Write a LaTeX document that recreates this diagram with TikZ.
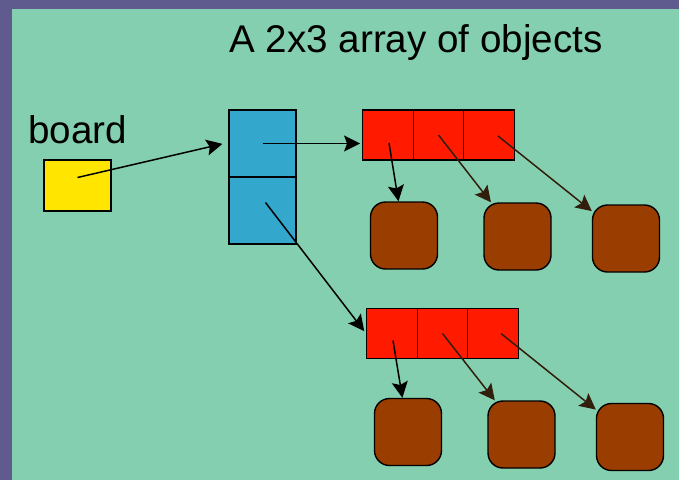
\documentclass[tikz,border=0pt]{standalone}
\usepackage{fontspec}
\setmainfont{Liberation Sans}
\usetikzlibrary{arrows.meta,calc}
\definecolor{bgpurple}{RGB}{95,91,143}
\definecolor{bggreen}{RGB}{132,207,176}
\definecolor{boxblue}{RGB}{51,168,204}
\definecolor{boxred}{RGB}{255,26,0}
\definecolor{boxyellow}{RGB}{255,229,0}
\definecolor{boxbrown}{RGB}{153,61,0}
\definecolor{darkline}{RGB}{50,30,12}
\begin{document}
\begin{tikzpicture}[x=1pt,y=-1pt,
  cellbox/.style={draw=black,line width=1.4pt,rectangle,inner sep=0pt},
  bluecell/.style={cellbox,fill=boxblue,minimum width=67pt,minimum height=67pt},
  redcell/.style={cellbox,fill=boxred,minimum width=50.5pt,minimum height=50pt},
  objbox/.style={cellbox,fill=boxbrown,minimum width=67pt,minimum height=67pt,rounded corners=15pt},
  ptr/.style={line width=1.5pt,draw=black,-{Stealth[length=16pt,width=16pt,inset=3pt]}},
  objptr/.style={ptr,draw=darkline},
  bigtext/.style={font=\fontsize{38.6}{44}\selectfont,inner sep=0pt}]
\useasboundingbox (0,0) rectangle (679,480);
\fill[bgpurple] (0,0) rectangle (679,480);
\fill[bggreen] (12,9) rectangle (679,480);

\node[bigtext,anchor=base] (title) at (416,52) {A 2x3 array of objects};
\node[bigtext,anchor=base west] (label) at (28,143) {board};

\node[cellbox,fill=boxyellow,minimum width=67pt,minimum height=51pt] (board) at (77.5,185.5) {};

\node[bluecell] (btop) at (262.5,143.5) {};
\node[bluecell] (bbot) at (262.5,210.5) {};

\node[redcell] (r11) at (388,135) {};
\node[redcell] (r12) at (438.5,135) {};
\node[redcell] (r13) at (489,135) {};

\node[redcell] (r21) at (392,333.5) {};
\node[redcell] (r22) at (442.5,333.5) {};
\node[redcell] (r23) at (493,333.5) {};

\node[objbox] (b11) at (404,235.5) {};
\node[objbox] (b12) at (517.5,236.5) {};
\node[objbox] (b13) at (626,238.5) {};
\node[objbox] (b21) at (408,432) {};
\node[objbox] (b22) at (521.5,434.5) {};
\node[objbox] (b23) at (630,437) {};

\draw[ptr,shorten >=6pt] ($(board.center)+(0,-8)$) -- ($(btop.west)+(0,-1)$);
\draw[ptr,shorten >=2pt] (btop.center) -- (btop.center -| r11.west);
\draw[ptr,shorten >=3pt] ($(bbot.center)+(3,-8)$) -- (r21.west);

\draw[ptr] ($(r11.center)+(1,8)$) -- (b11);
\draw[objptr] (r12.center) -- (b12);
\draw[objptr] ($(r13.center)+(9,1)$) -- (b13);

\draw[ptr] ($(r21.center)+(1,7)$) -- (b21);
\draw[objptr] (r22.center) -- (b22);
\draw[objptr] ($(r23.center)+(8,0)$) -- (b23);
\end{tikzpicture}
\end{document}
